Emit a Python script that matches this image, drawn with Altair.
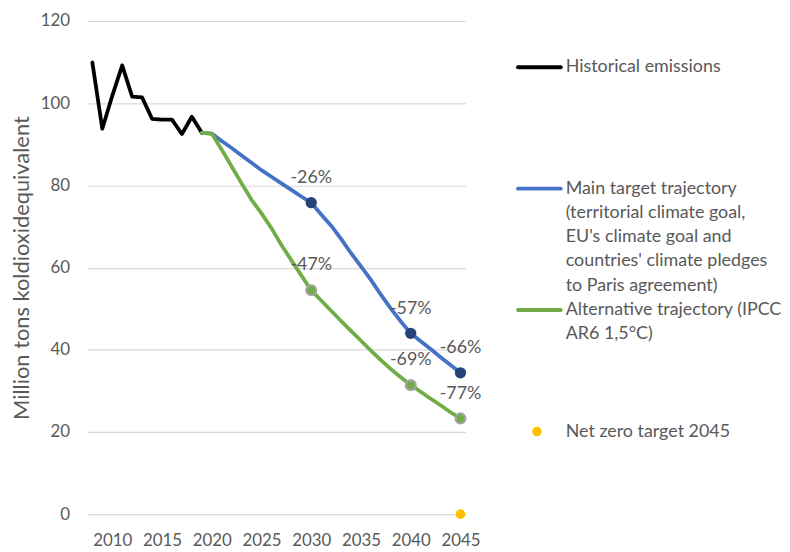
import altair as alt
import pandas as pd

# ---------------- data ----------------
hist_years = list(range(2008, 2020))
hist_values = [109.9, 93.8, 101.8, 109.2, 101.6, 101.4, 96.2, 96.0, 96.0, 92.5, 96.7, 92.8]

traj_years = list(range(2019, 2046))
main_values = [92.8, 92.6,
               90.8, 89.1, 87.3, 85.5, 83.7, 82.1, 80.5, 78.9, 77.3, 75.8,
               72.9, 70.2, 67.0, 63.5, 60.3, 57.0, 53.4, 50.0, 46.9, 44.0,
               42.1, 40.2, 38.2, 36.3, 34.4]
alt_values = [92.8, 92.6,
              88.7, 84.6, 80.5, 76.5, 73.2, 69.6, 65.5, 61.8, 58.1, 54.5,
              52.0, 49.5, 47.0, 44.6, 42.2, 39.8, 37.5, 35.3, 33.3, 31.4,
              29.8, 28.1, 26.5, 24.8, 23.3]

milestone_years = [2030, 2040, 2045]
main_labels = ["-26%", "-57%", "-66%"]
alt_labels = ["-47%", "-69%", "-77%"]

net_zero_year = [2045]
net_zero_value = [0]

series_names = ["Historical emissions", "Main target trajectory", "Alternative trajectory", "Net zero target 2045"]
legend_text = [
    ["Historical emissions"],
    ["Main target trajectory", "(territorial climate goal,", "EU's climate goal and",
     "countries' climate pledges", "to Paris agreement)"],
    ["Alternative trajectory (IPCC", "AR6 1,5°C)"],
    ["Net zero target 2045"],
]
x_ticks = list(range(2010, 2046, 5))
y_ticks = [0, 20, 40, 60, 80, 100, 120]

# ---------------- styles ----------------
FONT = "Lato"
TEXT = "#595959"
GRID = "#D9D9D9"
COLORS = ["#000000", "#4472C4", "#70AD47", "#FFC000"]
NAVY = "#264478"
GRAYRING = "#A5A5A5"
W, H = 381, 497

# ---------------- tables ----------------
lines_df = pd.concat([
    pd.DataFrame({"year": hist_years, "value": hist_values, "series": series_names[0]}),
    pd.DataFrame({"year": traj_years, "value": main_values, "series": series_names[1]}),
    pd.DataFrame({"year": traj_years, "value": alt_values, "series": series_names[2]}),
], ignore_index=True)

main_lookup = dict(zip(traj_years, main_values))
alt_lookup = dict(zip(traj_years, alt_values))
main_pts = pd.DataFrame({"year": milestone_years,
                         "value": [main_lookup[y] for y in milestone_years],
                         "label": main_labels})
alt_pts = pd.DataFrame({"year": milestone_years,
                        "value": [alt_lookup[y] for y in milestone_years],
                        "label": alt_labels})
nz_df = pd.DataFrame({"year": net_zero_year, "value": net_zero_value})

color_scale = alt.Scale(domain=series_names, range=COLORS)

x_enc = alt.X("year:Q",
              scale=alt.Scale(domain=[2007.5, 2045.5], nice=False, zero=False),
              axis=alt.Axis(values=x_ticks, format="d", grid=False, domain=False, ticks=False,
                            labelPadding=19, labelFontSize=17, labelFont=FONT, labelColor=TEXT,
                            labelFlush=False),
              title=None)
y_enc = alt.Y("value:Q",
              scale=alt.Scale(domain=[0, 120], nice=False),
              axis=alt.Axis(values=y_ticks, grid=True, gridColor=GRID, gridWidth=1.2,
                            domain=False, ticks=False,
                            labelPadding=18, labelFontSize=17, labelFont=FONT, labelColor=TEXT,
                            titleFont=FONT, titleFontSize=22, titleFontWeight="normal",
                            titleColor=TEXT, titlePadding=7),
              title="Million tons koldioxidequivalent")


def line_layer(name):
    return alt.Chart(lines_df).transform_filter(alt.datum.series == name).mark_line(
        strokeWidth=3.8, strokeJoin="round", strokeCap="round"
    ).encode(x=x_enc, y=y_enc, color=alt.Color("series:N", scale=color_scale, legend=None))


main_dots = alt.Chart(main_pts).mark_circle(size=130, fill=NAVY, opacity=1).encode(x=x_enc, y=y_enc)
alt_dots = alt.Chart(alt_pts).mark_circle(size=100, fill=COLORS[2], stroke=GRAYRING,
                                          strokeWidth=2.2, opacity=1).encode(x=x_enc, y=y_enc)
label_kw = dict(align="center", baseline="alphabetic", dy=-20, font=FONT, fontSize=18, color=TEXT)
main_text = alt.Chart(main_pts).mark_text(**label_kw).encode(x=x_enc, y=y_enc, text="label:N")
alt_text = alt.Chart(alt_pts).mark_text(**label_kw).encode(x=x_enc, y=y_enc, text="label:N")
nz_dot = alt.Chart(nz_df).mark_circle(size=95, fill=COLORS[3], opacity=1).encode(x=x_enc, y=y_enc)

main_chart = alt.layer(
    line_layer(series_names[0]), line_layer(series_names[1]), line_layer(series_names[2]),
    main_dots, alt_dots, main_text, alt_text, nz_dot
).properties(width=W, height=H)

# ---------------- legend panel ----------------
ROWS_PER_ENTRY = 5
leg_rows = []
for i, (name, lines) in enumerate(zip(series_names, legend_text)):
    for j, t in enumerate(lines):
        leg_rows.append({"series": name, "row": i * ROWS_PER_ENTRY + j, "text": t, "first": j == 0})
leg_df = pd.DataFrame(leg_rows)

leg_y = alt.Y("row:Q", scale=alt.Scale(domain=[-1.9, 18.4], reverse=True, nice=False, zero=False),
              axis=None)
leg_text = alt.Chart(leg_df).mark_text(align="left", baseline="middle", font=FONT, fontSize=18,
                                       color=TEXT).encode(x=alt.value(61), y=leg_y, text="text:N")
leg_lines = alt.Chart(leg_df).transform_filter(
    alt.datum.first & (alt.datum.series != series_names[3])
).mark_rule(strokeWidth=4, strokeCap="round").encode(
    x=alt.value(13), x2=alt.value(56), y=leg_y,
    color=alt.Color("series:N", scale=color_scale, legend=None))
leg_dot = alt.Chart(leg_df).transform_filter(
    alt.datum.first & (alt.datum.series == series_names[3])
).mark_circle(size=90, fill=COLORS[3], opacity=1).encode(x=alt.value(32), y=leg_y)

legend_chart = alt.layer(leg_lines, leg_dot, leg_text).properties(width=260, height=H)

chart = alt.hconcat(main_chart, legend_chart, spacing=40, bounds="flush").configure_view(
    stroke=None
).properties(padding={"left": 2, "top": 2, "right": 0, "bottom": 0})

chart.save("out.html", embed_options={"renderer": "svg", "actions": False})
